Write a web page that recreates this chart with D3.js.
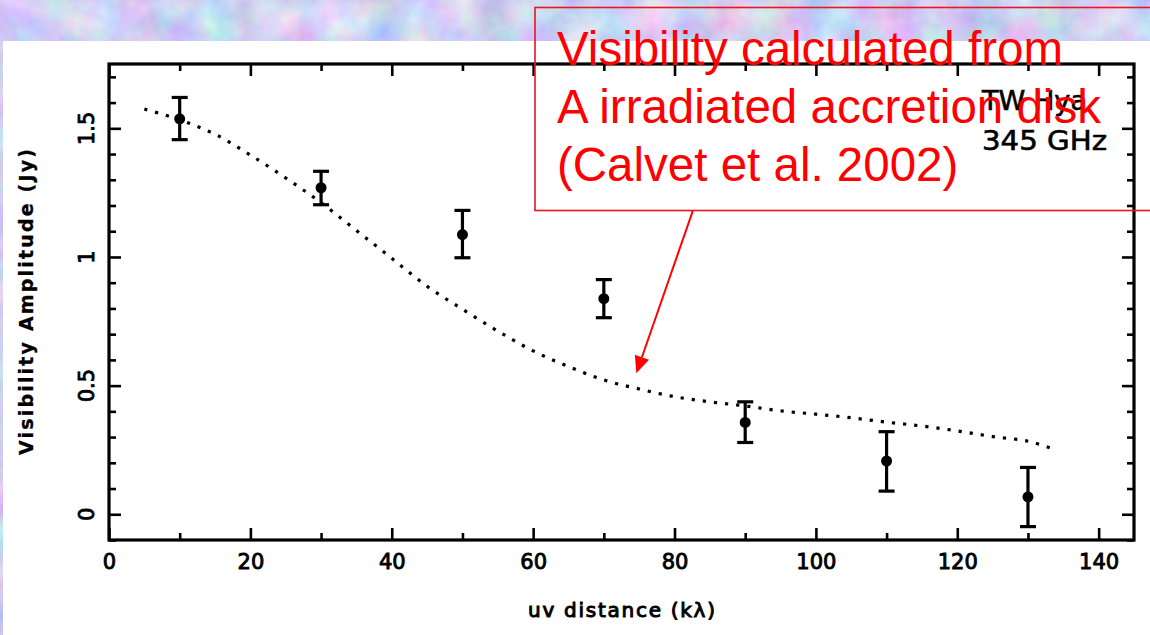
<!DOCTYPE html>
<html>
<head>
<meta charset="utf-8">
<script src="https://cdn.jsdelivr.net/npm/d3@7/dist/d3.min.js"></script>
<style>
  html, body { margin: 0; padding: 0; background: #fff; }
  svg { display: block; }
</style>
</head>
<body>
<script>
// Observed visibilities of TW Hya at 345 GHz, binned in uv distance
const uvDistance = [10, 30, 50, 70, 90, 110, 130];
const amplitude  = [1.537, 1.269, 1.087, 0.838, 0.357, 0.207, 0.068];
const ampLow     = [1.456, 1.203, 0.997, 0.764, 0.279, 0.090, -0.048];
const ampHigh    = [1.620, 1.333, 1.181, 0.912, 0.437, 0.321, 0.182];

// Model visibility curve for an irradiated accretion disk
const modelUv  = [5, 10, 15, 20, 25, 30, 35, 40, 45, 50, 55, 60, 65, 70, 75, 80, 85, 90, 95, 100, 105, 110, 115, 120, 125, 130, 134];
const modelAmp = [1.575, 1.533, 1.477, 1.396, 1.307, 1.211, 1.103, 0.995, 0.886, 0.797, 0.712, 0.635, 0.574, 0.522, 0.487, 0.457, 0.437, 0.421, 0.402, 0.389, 0.375, 0.358, 0.343, 0.324, 0.302, 0.284, 0.250];

// Axis ticks
const xMajor = [0, 20, 40, 60, 80, 100, 120, 140];
const xMinor = [10, 30, 50, 70, 90, 110, 130];
const yMajor = [0, 0.5, 1, 1.5];
const yMinor = [-0.1, 0.1, 0.2, 0.3, 0.4, 0.6, 0.7, 0.8, 0.9, 1.1, 1.2, 1.3, 1.4, 1.6, 1.7];
const yLabels = ["0", "0.5", "1", "1.5"];

const W = 1150, H = 635;
const plot = { left: 109, right: 1134, top: 64, bottom: 540 };

const svg = d3.select("body").append("svg").attr("width", W).attr("height", H);

// Soft pastel textured backdrop with a white sheet on top
const defs = svg.append("defs");
const f = defs.append("filter").attr("id", "tex")
  .attr("x", 0).attr("y", 0).attr("width", "100%").attr("height", "100%")
  .attr("color-interpolation-filters", "sRGB");
f.append("feTurbulence").attr("type", "fractalNoise").attr("baseFrequency", "0.025")
  .attr("numOctaves", 4).attr("seed", 7).attr("result", "n");
f.append("feColorMatrix").attr("type", "matrix")
  .attr("values", "0.42 0 0 0 0.6  0 0.38 0 0 0.62  0 0 0.18 0 0.86  0 0 0 0 1");

svg.append("rect").attr("width", W).attr("height", H).attr("filter", "url(#tex)");
svg.append("rect").attr("x", 3).attr("y", 41).attr("width", W - 3).attr("height", H - 41).attr("fill", "#fff");

const x = d3.scaleLinear().domain([0, 145]).range([plot.left, plot.right]);
const y = d3.scaleLinear().domain([-0.1, 1.75]).range([plot.bottom, plot.top]);

const tickFont = "'DejaVu Sans', sans-serif";

function styleAxis(g) {
  g.select(".domain").remove();
  g.selectAll(".tick line").attr("stroke", "#000").attr("stroke-width", 2.6);
  g.selectAll(".tick text").attr("fill", "#000").attr("font-family", tickFont)
    .attr("font-size", 21).attr("stroke", "#000").attr("stroke-width", 0.9);
}

// Bottom and top axes (ticks drawn inward)
svg.append("g").attr("transform", `translate(0,${plot.bottom})`)
  .call(d3.axisBottom(x).tickValues(xMajor).tickSize(-12).tickPadding(14).tickFormat(d3.format("d")))
  .call(styleAxis);
svg.append("g").attr("transform", `translate(0,${plot.bottom})`)
  .call(d3.axisBottom(x).tickValues(xMinor).tickSize(-7).tickFormat(""))
  .call(styleAxis);
svg.append("g").attr("transform", `translate(0,${plot.top})`)
  .call(d3.axisTop(x).tickValues(xMajor).tickSize(-12).tickFormat(""))
  .call(styleAxis);
svg.append("g").attr("transform", `translate(0,${plot.top})`)
  .call(d3.axisTop(x).tickValues(xMinor).tickSize(-7).tickFormat(""))
  .call(styleAxis);

// Left and right axes
svg.append("g").attr("transform", `translate(${plot.left},0)`)
  .call(d3.axisLeft(y).tickValues(yMajor).tickSize(-12).tickFormat(""))
  .call(styleAxis);
svg.append("g").attr("transform", `translate(${plot.left},0)`)
  .call(d3.axisLeft(y).tickValues(yMinor).tickSize(-7).tickFormat(""))
  .call(styleAxis);
svg.append("g").attr("transform", `translate(${plot.right},0)`)
  .call(d3.axisRight(y).tickValues(yMajor).tickSize(-12).tickFormat(""))
  .call(styleAxis);
svg.append("g").attr("transform", `translate(${plot.right},0)`)
  .call(d3.axisRight(y).tickValues(yMinor).tickSize(-7).tickFormat(""))
  .call(styleAxis);

// Rotated y tick labels
svg.append("g").selectAll("text").data(yMajor).join("text")
  .attr("transform", (d) => `translate(93.5,${y(d)}) rotate(-90)`)
  .attr("text-anchor", "middle")
  .attr("font-family", tickFont).attr("font-size", 21)
  .attr("fill", "#000").attr("stroke", "#000").attr("stroke-width", 0.9)
  .text((d, i) => yLabels[i]);

// Frame
svg.append("rect")
  .attr("x", plot.left).attr("y", plot.top)
  .attr("width", plot.right - plot.left).attr("height", plot.bottom - plot.top)
  .attr("fill", "none").attr("stroke", "#000").attr("stroke-width", 3.2);

// Axis titles
svg.append("text")
  .attr("x", (plot.left + plot.right) / 2).attr("y", 617)
  .attr("text-anchor", "middle")
  .attr("font-family", tickFont).attr("font-size", 20)
  .attr("fill", "#000").attr("stroke", "#000").attr("stroke-width", 1)
  .attr("textLength", 187).attr("lengthAdjust", "spacing")
  .text("uv distance (kλ)");

svg.append("text")
  .attr("transform", `translate(33,${(plot.top + plot.bottom) / 2}) rotate(-90)`)
  .attr("text-anchor", "middle")
  .attr("font-family", tickFont).attr("font-size", 19)
  .attr("font-weight", "bold")
  .attr("fill", "#000").attr("stroke", "#000").attr("stroke-width", 0.3)
  .attr("textLength", 306).attr("lengthAdjust", "spacing")
  .text("Visibility Amplitude (Jy)");

// Source / frequency label
const srcLines = ["TW Hya", "345 GHz"];
const srcWidths = [105, 125];
svg.append("g").selectAll("text").data(srcLines).join("text")
  .attr("x", 982).attr("y", (d, i) => 110 + i * 40)
  .attr("font-family", tickFont).attr("font-size", 26)
  .attr("fill", "#000").attr("stroke", "#000").attr("stroke-width", 0.6)
  .attr("textLength", (d, i) => srcWidths[i]).attr("lengthAdjust", "spacingAndGlyphs")
  .text((d) => d);

// Model curve (dotted)
const line = d3.line().x((d) => x(d[0])).y((d) => y(d[1])).curve(d3.curveCatmullRom);
svg.append("path")
  .datum(modelUv.map((u, i) => [u, modelAmp[i]]))
  .attr("d", line)
  .attr("fill", "none").attr("stroke", "#000")
  .attr("stroke-width", 3.2).attr("stroke-dasharray", "3.2 8");

// Error bars and points
const obs = uvDistance.map((u, i) => ({ u, v: amplitude[i], lo: ampLow[i], hi: ampHigh[i] }));
const eb = svg.append("g").attr("stroke", "#000").attr("stroke-width", 3.2);
eb.selectAll(".stem").data(obs).join("line")
  .attr("x1", (d) => x(d.u)).attr("x2", (d) => x(d.u))
  .attr("y1", (d) => y(d.lo)).attr("y2", (d) => y(d.hi));
eb.selectAll(".capHi").data(obs).join("line")
  .attr("x1", (d) => x(d.u) - 8).attr("x2", (d) => x(d.u) + 8)
  .attr("y1", (d) => y(d.hi)).attr("y2", (d) => y(d.hi));
eb.selectAll(".capLo").data(obs).join("line")
  .attr("x1", (d) => x(d.u) - 8).attr("x2", (d) => x(d.u) + 8)
  .attr("y1", (d) => y(d.lo)).attr("y2", (d) => y(d.lo));
svg.append("g").selectAll("circle").data(obs).join("circle")
  .attr("cx", (d) => x(d.u)).attr("cy", (d) => y(d.v)).attr("r", 5.5).attr("fill", "#000");

// Annotation: callout box, text and arrow pointing at the model curve
const red = "#ff0000";
svg.append("rect")
  .attr("x", 535).attr("y", 7.5).attr("width", 640).attr("height", 203)
  .attr("fill", "none").attr("stroke", "#e8161e").attr("stroke-width", 1.6);

const note = ["Visibility calculated from", "A irradiated accretion disk", "(Calvet et al. 2002)"];
svg.append("g").selectAll("text").data(note).join("text")
  .attr("x", 557).attr("y", (d, i) => 65 + i * 58)
  .attr("font-family", "'Liberation Sans', Arial, sans-serif").attr("font-size", 47.5)
  .attr("fill", red)
  .text((d) => d);

const arrowFrom = [82.6, 1.18], arrowTo = [74.6, 0.548];
const ax0 = x(arrowFrom[0]), ay0 = y(arrowFrom[1]);
const ax1 = x(arrowTo[0]), ay1 = y(arrowTo[1]);
const ang = Math.atan2(ay1 - ay0, ax1 - ax0);
const headLen = 17, headHalf = 7.5;
const bx = ax1 - headLen * Math.cos(ang), by = ay1 - headLen * Math.sin(ang);
svg.append("line")
  .attr("x1", ax0).attr("y1", ay0).attr("x2", bx).attr("y2", by)
  .attr("stroke", red).attr("stroke-width", 2);
svg.append("path")
  .attr("d", `M${ax1},${ay1}L${bx + headHalf * Math.sin(ang)},${by - headHalf * Math.cos(ang)}L${bx - headHalf * Math.sin(ang)},${by + headHalf * Math.cos(ang)}Z`)
  .attr("fill", red);
</script>
</body>
</html>
